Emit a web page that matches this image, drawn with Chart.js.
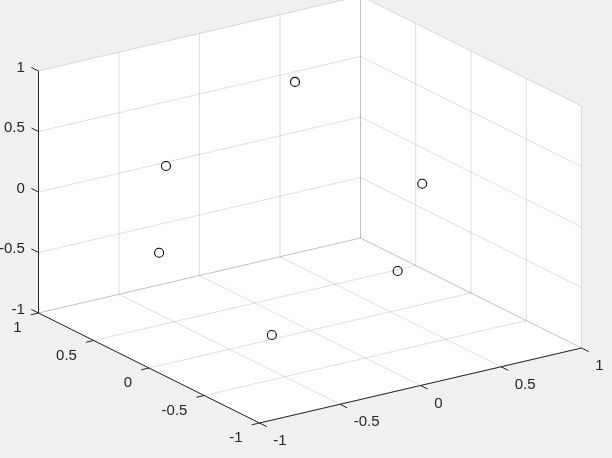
<!DOCTYPE html>
<html>
<head>
<meta charset="utf-8">
<script src="https://cdn.jsdelivr.net/npm/chart.js@4"></script>
<style>
  html, body { margin: 0; padding: 0; background: #f0f0f0; }
  canvas { display: block; }
</style>
</head>
<body>
<canvas id="chart" width="612" height="458"></canvas>
<script>
// point data (x, y, z)
const xValues = [-0.62, 0.25, 0.56, -0.8, -0.58, 0.27];
const yValues = [0.4, 0.5, -0.2, 0.2, -0.5, -0.4];
const zValues = [0.37, 0.75, 0.13, -0.2, -0.63, -0.41];

const xTicks = [-1, -0.5, 0, 0.5, 1];
const yTicks = [-1, -0.5, 0, 0.5, 1];
const zTicks = [-1, -0.5, 0, 0.5, 1];

// projection of the 3d box to the flat plot plane (default 3d view)
function proj(x, y, z) {
  return {
    x: 310 + 161 * x - 110.5 * y,
    y: 209.5 - 37.5 * x - 55 * y - 121 * z
  };
}

const points = xValues.map((x, i) => proj(x, yValues[i], zValues[i]));

const box3d = {
  id: "box3d",
  beforeDraw(chart) {
    const ctx = chart.ctx;
    ctx.save();
    ctx.fillStyle = "#f0f0f0";
    ctx.fillRect(0, 0, chart.width, chart.height);
    ctx.restore();
  },
  beforeDatasetsDraw(chart) {
    const ctx = chart.ctx;
    const sx = chart.scales.x, sy = chart.scales.y;
    const px = (x, y, z) => {
      const p = proj(x, y, z);
      return [sx.getPixelForValue(p.x), sy.getPixelForValue(p.y)];
    };
    const poly = pts => {
      ctx.beginPath();
      pts.forEach((p, i) => i ? ctx.lineTo(p[0], p[1]) : ctx.moveTo(p[0], p[1]));
      ctx.closePath();
      ctx.fill();
    };
    const line = (a, b) => {
      ctx.beginPath();
      ctx.moveTo(a[0], a[1]);
      ctx.lineTo(b[0], b[1]);
      ctx.stroke();
    };
    const unit = (a, b) => {
      const dx = a[0] - b[0], dy = a[1] - b[1];
      const l = Math.hypot(dx, dy);
      return [dx / l, dy / l];
    };

    ctx.save();
    // back panes and floor
    ctx.fillStyle = "#ffffff";
    poly([px(-1, 1, -1), px(1, 1, -1), px(1, 1, 1), px(-1, 1, 1)]);
    poly([px(1, 1, -1), px(1, -1, -1), px(1, -1, 1), px(1, 1, 1)]);
    poly([px(-1, -1, -1), px(1, -1, -1), px(1, 1, -1), px(-1, 1, -1)]);

    // grid
    ctx.strokeStyle = "rgba(38,38,38,0.15)";
    ctx.lineWidth = 1;
    xTicks.forEach(t => {
      line(px(t, 1, -1), px(t, 1, 1));
      line(px(t, -1, -1), px(t, 1, -1));
    });
    yTicks.forEach(t => {
      line(px(1, t, -1), px(1, t, 1));
      line(px(-1, t, -1), px(1, t, -1));
    });
    zTicks.forEach(t => {
      line(px(-1, 1, t), px(1, 1, t));
      line(px(1, 1, t), px(1, -1, t));
    });

    // axis lines
    ctx.strokeStyle = "#262626";
    line(px(-1, 1, -1), px(-1, 1, 1));
    line(px(-1, 1, -1), px(-1, -1, -1));
    line(px(-1, -1, -1), px(1, -1, -1));

    const len = 8;
    const dz = unit(px(0, 1, 0), px(0, 0, 0));
    const dy = unit(px(0, 0, 0), px(1, 0, 0));
    const dx = unit(px(0, 0, 0), px(0, 1, 0));
    ctx.fillStyle = "#262626";
    ctx.font = "15px 'Liberation Sans', Arial, sans-serif";

    zTicks.forEach(t => {
      const a = px(-1, 1, t);
      const b = [a[0] + dz[0] * len, a[1] + dz[1] * len];
      line(a, b);
      ctx.textAlign = "right";
      ctx.textBaseline = "middle";
      ctx.fillText(String(t), b[0] - 6.5, b[1]);
    });
    yTicks.forEach(t => {
      const a = px(-1, t, -1);
      const b = [a[0] + dy[0] * len, a[1] + dy[1] * len];
      line(a, b);
      ctx.textAlign = "right";
      ctx.textBaseline = "middle";
      ctx.fillText(String(t), b[0] - 9, b[1] + 13.5);
    });
    xTicks.forEach(t => {
      const a = px(t, -1, -1);
      const b = [a[0] + dx[0] * len, a[1] + dx[1] * len];
      line(a, b);
      ctx.textAlign = "left";
      ctx.textBaseline = "middle";
      ctx.fillText(String(t), b[0] + 6.5, b[1] + 14.5);
    });
    ctx.restore();
  }
};

new Chart(document.getElementById("chart"), {
  type: "scatter",
  data: {
    datasets: [{
      data: points,
      pointStyle: "circle",
      pointRadius: 4.5,
      pointBorderWidth: 1.1,
      borderColor: "#000000",
      backgroundColor: "rgba(0,0,0,0)",
      clip: false
    }]
  },
  options: {
    responsive: false,
    devicePixelRatio: 1,
    animation: false,
    events: [],
    layout: { padding: 0, autoPadding: false },
    plugins: { legend: { display: false }, tooltip: { enabled: false } },
    scales: {
      x: { type: "linear", min: 0, max: 612, display: false },
      y: { type: "linear", min: 0, max: 458, reverse: true, display: false }
    }
  },
  plugins: [box3d]
});
</script>
</body>
</html>
